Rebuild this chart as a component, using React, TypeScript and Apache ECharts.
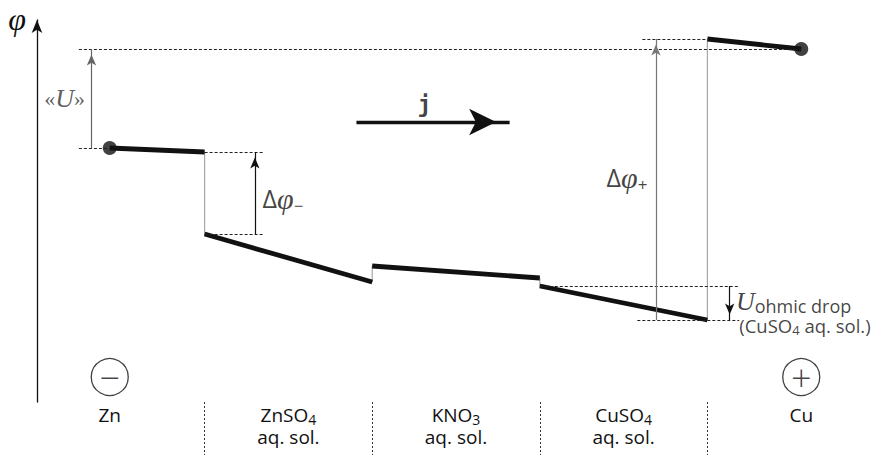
import React, { useEffect, useRef } from "react";
import * as echarts from "echarts";

// Phases of the cell along the current path (x in phase units, boundaries at 1..4)
const phaseNames = ["Zn", "ZnSO", "KNO", "CuSO", "Cu"];
const phaseSubs = ["", "4", "3", "4", ""];
const phaseSecondLine = ["", "aq. sol.", "aq. sol.", "aq. sol.", ""];
const phaseLabelX = [0.434, 1.5, 2.5, 3.5, 4.56];
const phaseBoundaries = [1, 2, 3, 4];

// Electric potential profile (arbitrary units): start/end of each phase segment
const segStartX = [0.434, 1, 2, 3, 4];
const segEndX = [1, 2, 3, 4, 4.56];
const phiStart = [17.2, 8.6, 5.4, 3.4, 28.1];
const phiEnd = [16.8, 3.8, 4.2, 0, 27.1];

// Electrode signs
const signLevel = -5.7;
const electrodeSigns = ["−", "+"];

const SANS = "'Open Sans', 'Noto Sans', sans-serif";
const SERIF = "'Liberation Serif', 'DejaVu Serif', serif";
const INK = "#111";

export default function App() {
  const ref = useRef<HTMLDivElement>(null);

  useEffect(() => {
    if (!ref.current) return;
    const chart = echarts.init(ref.current, undefined, { renderer: "svg" });

    const dotted = (x1: number, y1: number, x2: number, y2: number) => [
      { coord: [x1, y1] },
      { coord: [x2, y2] },
    ];
    const arrow = (x1: number, y1: number, x2: number, y2: number, color: string) => [
      { coord: [x1, y1], lineStyle: { color } },
      { coord: [x2, y2] },
    ];

    const profile: number[][] = [];
    segStartX.forEach((x0, i) => {
      profile.push([x0, phiStart[i]]);
      profile.push([segEndX[i], phiEnd[i]]);
    });

    const uLevel = phiEnd[4];

    const phaseRich = {
      a: { fontSize: 19, fontFamily: SANS, color: INK, lineHeight: 22, verticalAlign: "middle" },
      s: { fontSize: 14, fontFamily: SANS, color: INK, lineHeight: 16, verticalAlign: "bottom" },
    };

    const textRich = {
      d: { fontSize: 25, fontFamily: SANS, color: INK, lineHeight: 32, verticalAlign: "middle" },
      p: { fontSize: 30, fontFamily: SERIF, fontStyle: "italic", color: INK, lineHeight: 32, verticalAlign: "middle" },
      m: { fontSize: 17, fontFamily: SANS, color: INK, lineHeight: 17, verticalAlign: "bottom" },
      g: { fontSize: 22, fontFamily: SERIF, color: "#333", lineHeight: 28, verticalAlign: "middle" },
      u: { fontSize: 26, fontFamily: SERIF, fontStyle: "italic", color: "#333", lineHeight: 28, verticalAlign: "middle" },
      U: { fontSize: 26, fontFamily: SERIF, fontStyle: "italic", color: INK, lineHeight: 28, verticalAlign: "middle" },
      o: { fontSize: 18, fontFamily: SANS, color: INK, lineHeight: 18, verticalAlign: "bottom" },
      a: { fontSize: 18.5, fontFamily: SANS, color: INK, lineHeight: 22, verticalAlign: "middle" },
      s: { fontSize: 13, fontFamily: SANS, color: INK, lineHeight: 14, verticalAlign: "bottom" },
      j: { fontSize: 23, fontFamily: "'DejaVu Sans Mono', monospace", fontWeight: "bold", color: INK },
    };

    const textItem = (x: number, y: number, formatter: string, position: string) => ({
      value: [x, y],
      label: { show: true, position, distance: 0, formatter, rich: textRich },
    });

    const option: any = {
      animation: false,
      grid: { left: 37, right: 0, top: 20, bottom: 53 },
      xAxis: {
        type: "value",
        min: 0,
        max: 5,
        axisLine: { show: false, onZero: false },
        splitLine: { show: false },
        axisTick: {
          show: true,
          customValues: phaseBoundaries,
          length: 56,
          lineStyle: { color: "#333", width: 1, type: [2, 2] },
        },
        axisLabel: {
          customValues: phaseLabelX,
          margin: 2,
          formatter: (v: number) => {
            let idx = 0;
            phaseLabelX.forEach((p, i) => {
              if (Math.abs(p - v) < Math.abs(phaseLabelX[idx] - v)) idx = i;
            });
            let s = `{a|${phaseNames[idx]}}`;
            if (phaseSubs[idx]) s += `{s|${phaseSubs[idx]}}`;
            if (phaseSecondLine[idx]) s += `\n{a|${phaseSecondLine[idx]}}`;
            return s;
          },
          rich: phaseRich,
        },
      },
      yAxis: {
        type: "value",
        min: -8.2,
        max: 30,
        name: "φ",
        nameLocation: "end",
        nameGap: 1,
        nameTextStyle: {
          fontFamily: SERIF,
          fontStyle: "italic",
          fontSize: 32,
          color: INK,
          align: "right",
          verticalAlign: "middle",
          padding: [0, 11, 0, 0],
        },
        axisLine: {
          show: true,
          onZero: false,
          symbol: ["none", "arrow"],
          symbolSize: [8, 13],
          lineStyle: { color: INK, width: 1.3 },
        },
        axisTick: { show: false },
        axisLabel: { show: false },
        splitLine: { show: false },
      },
      series: [
        // thin connecting profile (interfaces)
        {
          type: "line",
          data: profile,
          symbol: "none",
          silent: true,
          z: 2,
          lineStyle: { color: "#a8a8a8", width: 1.2 },
        },
        // thick potential segments within each phase
        ...segStartX.map((x0, i) => ({
          type: "line",
          data: [
            [x0, phiStart[i]],
            [segEndX[i], phiEnd[i]],
          ],
          symbol: "none",
          silent: true,
          z: 3,
          lineStyle: { color: INK, width: 4.8 },
        })),
        // electrode end dots
        {
          type: "scatter",
          data: [
            [segStartX[0], phiStart[0]],
            [segEndX[4], phiEnd[4]],
          ],
          symbolSize: 14,
          silent: true,
          z: 4,
          itemStyle: { color: INK },
        },
        // dotted guide lines
        {
          type: "line",
          data: [],
          silent: true,
          markLine: {
            silent: true,
            symbol: "none",
            label: { show: false },
            emphasis: { disabled: true },
            lineStyle: { type: [3, 2], width: 1, color: "#222" },
            data: [
              dotted(0.25, uLevel, segEndX[4], uLevel),
              dotted(0.25, phiStart[0], segStartX[0], phiStart[0]),
              dotted(1, phiEnd[0], 1.346, phiEnd[0]),
              dotted(1, phiStart[1], 1.346, phiStart[1]),
              dotted(3.612, phiStart[4], 4, phiStart[4]),
              dotted(3.582, phiEnd[3], 4.19, phiEnd[3]),
              dotted(3, phiStart[3], 4.19, phiStart[3]),
            ],
          },
        },
        // small arrows
        {
          type: "line",
          data: [],
          silent: true,
          markLine: {
            silent: true,
            symbol: ["none", "arrow"],
            symbolSize: [7, 11],
            symbolOffset: [[0, 0], [0, 5.5]],
            label: { show: false },
            emphasis: { disabled: true },
            lineStyle: { type: "solid", width: 1.2, color: INK },
            data: [
              arrow(0.325, phiStart[0], 0.325, uLevel, "#666"),
              arrow(1.3, phiStart[1], 1.3, phiEnd[0], INK),
              arrow(3.693, phiEnd[3], 3.693, phiStart[4], "#777"),
              arrow(4.133, phiStart[3], 4.133, phiEnd[3], INK),
            ],
          },
        },
        // current density arrow j
        {
          type: "line",
          data: [],
          silent: true,
          markLine: {
            silent: true,
            symbol: ["none", "arrow"],
            symbolSize: [20, 27],
            symbolOffset: [[0, 0], [0, 13.5]],
            label: { show: false },
            emphasis: { disabled: true },
            lineStyle: { type: "solid", width: 3.4, color: INK },
            data: [arrow(1.906, 19.8, 2.82, 19.8, INK)],
          },
        },
        // electrode signs
        {
          type: "scatter",
          silent: true,
          symbolSize: 37,
          itemStyle: { color: "rgba(0,0,0,0)", borderColor: INK, borderWidth: 1.3 },
          label: {
            show: true,
            position: "inside",
            fontFamily: SANS,
            fontSize: 36,
            fontWeight: 300,
            color: INK,
            formatter: (p: any) => electrodeSigns[p.dataIndex],
          },
          data: [
            [phaseLabelX[0], signLevel],
            [phaseLabelX[4], signLevel],
          ],
        },
        // annotations
        {
          type: "scatter",
          silent: true,
          symbolSize: 0,
          itemStyle: { color: "rgba(0,0,0,0)" },
          data: [
            textItem(0.165, 22.2, "{g|«}{u|U}{g|»}", "inside"),
            textItem(1.346, 12.2, "{d|Δ}{p|φ}{m|−}", "right"),
            textItem(3.642, 14.3, "{d|Δ}{p|φ}{m|+}", "left"),
            textItem(2.312, 21.6, "{j|j}", "inside"),
            textItem(4.17, 1.9, "{U|U}{o|ohmic drop}", "right"),
            textItem(4.19, -0.5, "{a|(CuSO}{s|4}{a| aq. sol.)}", "right"),
          ],
        },
      ],
    };

    chart.setOption(option);
    return () => chart.dispose();
  }, []);

  return (
    <div
      ref={ref}
      style={{ position: "fixed", left: 0, top: 0, width: 875, height: 455, background: "#fff" }}
    />
  );
}
